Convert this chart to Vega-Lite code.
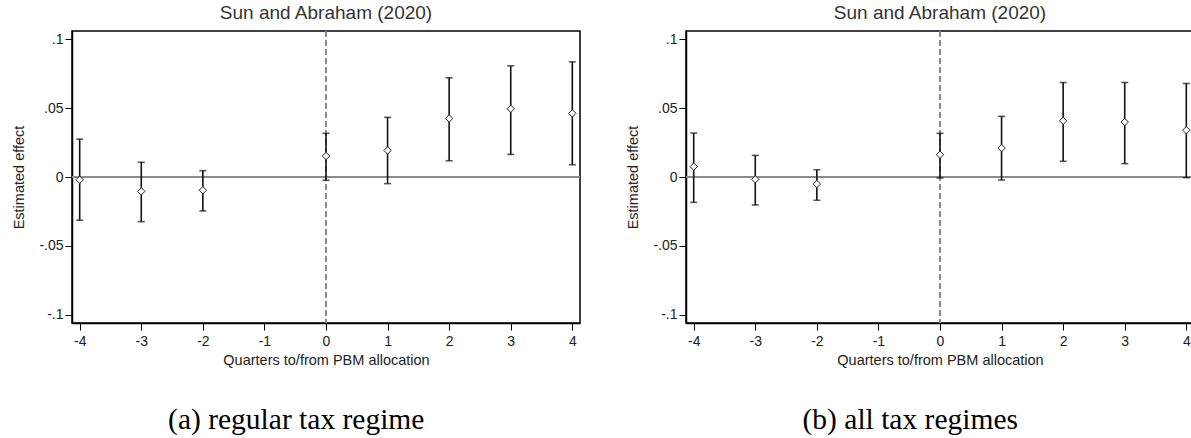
{
  "$schema": "https://vega.github.io/schema/vega-lite/v6.json",
  "background": "white",
  "padding": {"left": 11, "top": 2, "right": 0, "bottom": 0},
  "datasets": {
    "a": [
      {"q": -4, "b": -0.002, "lo": -0.0314, "hi": 0.0275},
      {"q": -3, "b": -0.0104, "lo": -0.0324, "hi": 0.0107},
      {"q": -2, "b": -0.0096, "lo": -0.0246, "hi": 0.0046},
      {"q": 0, "b": 0.0152, "lo": -0.0024, "hi": 0.0317},
      {"q": 1, "b": 0.0193, "lo": -0.0048, "hi": 0.0433},
      {"q": 2, "b": 0.0425, "lo": 0.0118, "hi": 0.072},
      {"q": 3, "b": 0.0495, "lo": 0.0164, "hi": 0.0807},
      {"q": 4, "b": 0.0462, "lo": 0.0089, "hi": 0.0836}
    ],
    "b": [
      {"q": -4, "b": 0.0075, "lo": -0.0184, "hi": 0.0319},
      {"q": -3, "b": -0.0017, "lo": -0.0203, "hi": 0.0157},
      {"q": -2, "b": -0.0051, "lo": -0.0169, "hi": 0.0053},
      {"q": 0, "b": 0.0162, "lo": -0.0007, "hi": 0.0317},
      {"q": 1, "b": 0.021, "lo": -0.0022, "hi": 0.044},
      {"q": 2, "b": 0.0408, "lo": 0.0114, "hi": 0.0686},
      {"q": 3, "b": 0.0399, "lo": 0.0097, "hi": 0.0686},
      {"q": 4, "b": 0.034, "lo": -0.0005, "hi": 0.0679}
    ]
  },
  "spacing": 43,
  "hconcat": [
    {
      "title": {"text": "(a) regular tax regime", "orient": "bottom", "anchor": "middle", "font": "Liberation Serif", "fontSize": 29.5, "fontWeight": "normal", "color": "#000", "offset": 39},
      "vconcat": [
        {
          "title": {"text": "Sun and Abraham (2020)", "anchor": "middle", "frame": "group", "font": "Liberation Sans", "fontSize": 19, "fontWeight": "normal", "color": "#333", "offset": 8},
          "width": 508,
          "height": 292,
          "data": {"name": "a"},
          "layer": [
            {"mark": {"type": "rule", "color": "#8a8a8a", "strokeWidth": 1.2}, "encoding": {"y": {"datum": 0, "type": "quantitative", "scale": {"domain": [-0.106, 0.106], "nice": false, "zero": false}}}},
            {"mark": {"type": "rule", "color": "#8a8a8a", "strokeWidth": 1, "strokeDash": [6, 3]}, "encoding": {"x": {"datum": 0, "type": "quantitative", "scale": {"domain": [-4.125, 4.125], "nice": false, "zero": false}}}},
            {"mark": {"type": "rule", "color": "#111", "strokeWidth": 1.6}, "encoding": {"x": {"field": "q", "type": "quantitative"}, "y": {"field": "lo", "type": "quantitative"}, "y2": {"field": "hi"}}},
            {"mark": {"type": "tick", "orient": "horizontal", "color": "#111", "size": 7, "thickness": 1.6}, "encoding": {"x": {"field": "q", "type": "quantitative"}, "y": {"field": "lo", "type": "quantitative"}}},
            {"mark": {"type": "tick", "orient": "horizontal", "color": "#111", "size": 7, "thickness": 1.6}, "encoding": {"x": {"field": "q", "type": "quantitative"}, "y": {"field": "hi", "type": "quantitative"}}},
            {"mark": {"type": "point", "shape": "diamond", "filled": false, "fill": "white", "color": "#222", "size": 55, "strokeWidth": 1, "opacity": 1}, "encoding": {
              "x": {"field": "q", "type": "quantitative", "title": "Quarters to/from PBM allocation", "scale": {"domain": [-4.125, 4.125], "nice": false, "zero": false}, "axis": {"values": [-4, -3, -2, -1, 0, 1, 2, 3, 4], "labelExpr": "replace(format(datum.value, 'd'), '\u2212', '-')"}},
              "y": {"field": "b", "type": "quantitative", "title": "Estimated effect", "scale": {"domain": [-0.106, 0.106], "nice": false, "zero": false}, "axis": {"values": [-0.1, -0.05, 0, 0.05, 0.1], "labelExpr": "datum.value == 0 ? '0' : replace(replace(format(datum.value, '~g'), '0.', '.'), '\u2212', '-')"}}
            }}
          ]
        }
      ]
    },
    {
      "title": {"text": "(b) all tax regimes", "orient": "bottom", "anchor": "middle", "font": "Liberation Serif", "fontSize": 29.5, "fontWeight": "normal", "color": "#000", "offset": 39},
      "vconcat": [
        {
          "title": {"text": "Sun and Abraham (2020)", "anchor": "middle", "frame": "group", "font": "Liberation Sans", "fontSize": 19, "fontWeight": "normal", "color": "#333", "offset": 8},
          "width": 508,
          "height": 292,
          "data": {"name": "b"},
          "layer": [
            {"mark": {"type": "rule", "color": "#8a8a8a", "strokeWidth": 1.2}, "encoding": {"y": {"datum": 0, "type": "quantitative", "scale": {"domain": [-0.106, 0.106], "nice": false, "zero": false}}}},
            {"mark": {"type": "rule", "color": "#8a8a8a", "strokeWidth": 1, "strokeDash": [6, 3]}, "encoding": {"x": {"datum": 0, "type": "quantitative", "scale": {"domain": [-4.125, 4.125], "nice": false, "zero": false}}}},
            {"mark": {"type": "rule", "color": "#111", "strokeWidth": 1.6}, "encoding": {"x": {"field": "q", "type": "quantitative"}, "y": {"field": "lo", "type": "quantitative"}, "y2": {"field": "hi"}}},
            {"mark": {"type": "tick", "orient": "horizontal", "color": "#111", "size": 7, "thickness": 1.6}, "encoding": {"x": {"field": "q", "type": "quantitative"}, "y": {"field": "lo", "type": "quantitative"}}},
            {"mark": {"type": "tick", "orient": "horizontal", "color": "#111", "size": 7, "thickness": 1.6}, "encoding": {"x": {"field": "q", "type": "quantitative"}, "y": {"field": "hi", "type": "quantitative"}}},
            {"mark": {"type": "point", "shape": "diamond", "filled": false, "fill": "white", "color": "#222", "size": 55, "strokeWidth": 1, "opacity": 1}, "encoding": {
              "x": {"field": "q", "type": "quantitative", "title": "Quarters to/from PBM allocation", "scale": {"domain": [-4.125, 4.125], "nice": false, "zero": false}, "axis": {"values": [-4, -3, -2, -1, 0, 1, 2, 3, 4], "labelExpr": "replace(format(datum.value, 'd'), '\u2212', '-')"}},
              "y": {"field": "b", "type": "quantitative", "title": "Estimated effect", "scale": {"domain": [-0.106, 0.106], "nice": false, "zero": false}, "axis": {"values": [-0.1, -0.05, 0, 0.05, 0.1], "labelExpr": "datum.value == 0 ? '0' : replace(replace(format(datum.value, '~g'), '0.', '.'), '\u2212', '-')"}}
            }}
          ]
        }
      ]
    }
  ],
  "config": {
    "view": {"stroke": "#000", "strokeWidth": 1.5},
    "axis": {
      "grid": false,
      "domainColor": "#000",
      "domainWidth": 1.5,
      "tickColor": "#000",
      "tickWidth": 1,
      "tickSize": 7,
      "labelFont": "Liberation Sans",
      "labelFontSize": 14,
      "labelColor": "#222",
      "titleFont": "Liberation Sans",
      "titleFontSize": 14.5,
      "titleFontWeight": "normal",
      "titleColor": "#222"
    },
    "axisX": {"labelPadding": 4, "titlePadding": 5},
    "axisY": {"labelPadding": 2, "titlePadding": 12, "labelAngle": 0}
  }
}
